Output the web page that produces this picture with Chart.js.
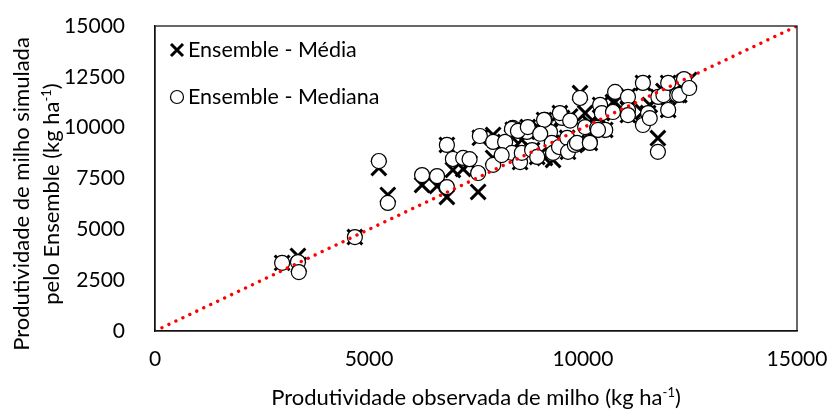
<!DOCTYPE html>
<html>
<head>
<meta charset="utf-8">
<script src="https://cdn.jsdelivr.net/npm/chart.js@4/dist/chart.umd.min.js"></script>
<style>
  html, body { margin: 0; padding: 0; background: #fff; }
  #wrap { width: 827px; height: 412px; }
</style>
</head>
<body>
<div id="wrap"><canvas id="c" width="827" height="412"></canvas></div>
<script>
// Observed maize yield (kg/ha)
const observado = [
  2970, 3340, 3360, 4670, 5230, 5440, 6240, 6590, 6820, 6820,
  6960, 7200, 7550, 7590, 7900, 7900, 8180, 8340, 8360, 8530,
  8570, 8690, 8810, 8930, 9110, 9230, 9270, 9300, 9440, 9510,
  9630, 9650, 9810, 9860, 9930, 10050, 10160, 10160, 10330, 10400,
  10440, 10520, 10700, 10750, 11050, 11050, 11050, 11400, 11400, 11520,
  11560, 11750, 11760, 11880, 11990, 11990, 12200, 12250, 12360, 12480,
  8340, 8480, 8710, 9090, 9460, 10350, 7350, 8100, 9000, 9700
];
// Ensemble mean simulation (kg/ha)
const ensembleMedia = [
  3350, 3690, 3250, 4620, 8020, 6690, 7180, 7130, 6590, 9150,
  7920, 7970, 6840, 9500, 8510, 9640, 9300, 8760, 9900, 8310,
  9400, 9800, 8900, 8560, 8510, 9790, 9250, 8410, 9050, 10480,
  9500, 8810, 9150, 9250, 11700, 10720, 10230, 9250, 10000, 11120,
  10720, 9890, 11260, 11260, 11560, 10900, 10620, 12200, 10770, 10720,
  11120, 9490, 11510, 11800, 10870, 12200, 11600, 11610, 12250, 12350,
  9540, 9840, 10030, 10380, 10720, 9890, 8250, 8850, 9900, 10550
];
// Ensemble median simulation (kg/ha)
const ensembleMediana = [
  3350, 3390, 2900, 4620, 8360, 6300, 7670, 7620, 7080, 9150,
  8460, 8510, 7770, 9590, 8170, 9300, 9300, 8760, 9990, 8310,
  8760, 9790, 8900, 8560, 10380, 9790, 9250, 8760, 9050, 10480,
  9500, 8810, 9150, 9250, 11460, 10030, 9300, 9250, 9990, 11120,
  10720, 9890, 10770, 11760, 11510, 10870, 10620, 12200, 10130, 10720,
  10470, 8810, 11510, 11600, 10870, 12200, 11600, 11610, 12390, 11950,
  9940, 9840, 10030, 10380, 10720, 9890, 8450, 8650, 9700, 10350
];
// 1:1 reference line
const linha11 = [0, 15000];

const xTicks = [0, 5000, 10000, 15000];
const yTicks = [0, 2500, 5000, 7500, 10000, 12500, 15000];

const FONT = 'Lato, "Open Sans", sans-serif';

const pts = (xs, ys) => xs.map((x, i) => ({ x: x, y: ys[i] }));

// draws box, axis titles (with superscripts) and the inset legend
const decor = {
  id: 'decor',
  afterDraw(chart) {
    const ctx = chart.ctx;
    const a = chart.chartArea;
    ctx.save();
    ctx.strokeStyle = '#1a1a1a';
    ctx.lineWidth = 1.3;
    ctx.strokeRect(a.left, a.top, a.right - a.left, a.bottom - a.top);

    ctx.fillStyle = '#000';
    ctx.textBaseline = 'alphabetic';

    function supText(parts, x, y, align) {
      // parts: [main, sup, tail]
      const big = '22px ' + FONT, small = '13px ' + FONT;
      ctx.font = big; const w1 = ctx.measureText(parts[0]).width;
      const w3 = ctx.measureText(parts[2]).width;
      ctx.font = small; const w2 = ctx.measureText(parts[1]).width;
      const total = w1 + w2 + w3;
      let sx = align === 'center' ? x - total / 2 : x;
      ctx.textAlign = 'left';
      ctx.font = big; ctx.fillText(parts[0], sx, y);
      ctx.font = small; ctx.fillText(parts[1], sx + w1, y - 8);
      ctx.font = big; ctx.fillText(parts[2], sx + w1 + w2, y);
    }

    // x-axis title
    supText(['Produtividade observada de milho (kg ha', '-1', ')'], (a.left + a.right) / 2, 405, 'center');

    // y-axis title (rotated)
    ctx.save();
    ctx.rotate(-Math.PI / 2);
    ctx.font = '22px ' + FONT;
    ctx.textAlign = 'center';
    ctx.fillText('Produtividade de milho simulada', -194, 29);
    supText(['pelo Ensemble (kg ha', '-1', ')'], -194, 59, 'center');
    ctx.restore();

    // legend
    ctx.font = '21.5px ' + FONT;
    ctx.textAlign = 'left';
    ctx.textBaseline = 'middle';
    const lx = 177;
    ctx.strokeStyle = '#000';
    ctx.lineWidth = 3;
    const s = 6;
    ctx.beginPath();
    ctx.moveTo(lx - s, 50 - s); ctx.lineTo(lx + s, 50 + s);
    ctx.moveTo(lx + s, 50 - s); ctx.lineTo(lx - s, 50 + s);
    ctx.stroke();
    ctx.fillText('Ensemble - Média', 188, 50);
    ctx.lineWidth = 1.2;
    ctx.fillStyle = '#fff';
    ctx.beginPath();
    ctx.arc(lx, 97, 6.5, 0, Math.PI * 2);
    ctx.fill(); ctx.stroke();
    ctx.fillStyle = '#000';
    ctx.fillText('Ensemble - Mediana', 188, 97);
    ctx.restore();
  }
};

const plain = v => String(v);

new Chart(document.getElementById('c'), {
  type: 'scatter',
  data: {
    datasets: [
      {
        label: '1:1',
        type: 'line',
        data: linha11.map(v => ({ x: v, y: v })),
        borderColor: '#ff0000',
        borderWidth: 3.4,
        borderDash: [0.01, 7.7],
        borderCapStyle: 'round',
        pointRadius: 0,
        fill: false,
        order: 0
      },
      {
        label: 'Ensemble - Mediana',
        data: pts(observado, ensembleMediana),
        pointStyle: 'circle',
        pointRadius: 7.5,
        backgroundColor: '#ffffff',
        borderColor: '#000000',
        borderWidth: 1.2,
        order: 1
      },
      {
        label: 'Ensemble - Média',
        data: pts(observado, ensembleMedia),
        pointStyle: 'crossRot',
        pointRadius: 10.5,
        borderColor: '#000000',
        borderWidth: 3,
        order: 2
      }
    ]
  },
  options: {
    responsive: false,
    animation: false,
    layout: { padding: { left: 0, top: 26, right: 30, bottom: 0 } },
    plugins: { legend: { display: false }, tooltip: { enabled: false } },
    scales: {
      x: {
        type: 'linear',
        min: 0, max: 15000,
        afterFit(scale) {
          scale.height = 81;
          scale.paddingLeft = 0; scale.paddingRight = 0;
        },
        afterBuildTicks(scale) { scale.ticks = xTicks.map(v => ({ value: v })); },
        grid: { display: false },
        border: { display: true, color: '#000', width: 1.3 },
        ticks: { color: '#000', font: { family: FONT, size: 21 }, padding: 8, maxRotation: 0, callback: plain }
      },
      y: {
        type: 'linear',
        min: 0, max: 15000,
        afterFit(scale) {
          scale.width = 155;
          scale.paddingTop = 0; scale.paddingBottom = 0;
        },
        afterBuildTicks(scale) { scale.ticks = yTicks.map(v => ({ value: v })); },
        grid: { display: false },
        border: { display: true, color: '#000', width: 1.3 },
        ticks: { color: '#000', font: { family: FONT, size: 21 }, padding: 22, callback: plain }
      }
    }
  },
  plugins: [decor]
});
</script>
</body>
</html>
